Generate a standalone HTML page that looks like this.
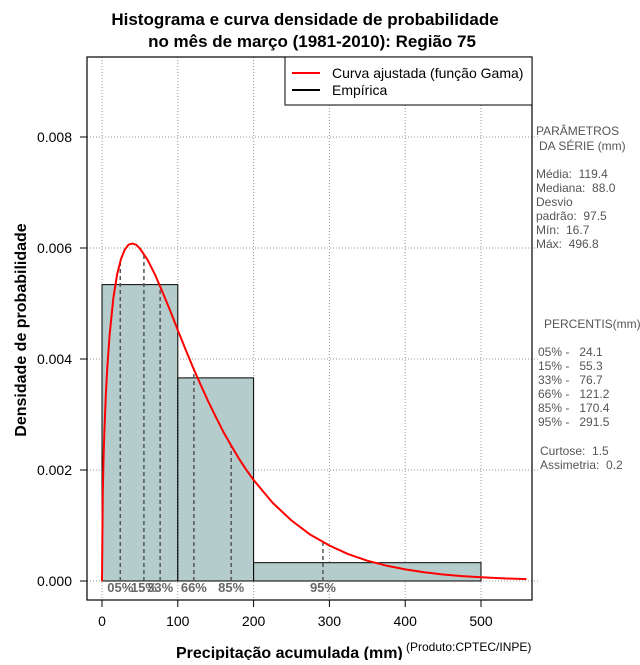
<!DOCTYPE html>
<html><head><meta charset="utf-8"><style>
body{margin:0;background:#fff;}
svg text{font-family:"Liberation Sans",sans-serif;white-space:pre;}
</style></head><body>
<svg id="c" width="640" height="660" xmlns="http://www.w3.org/2000/svg">
<defs><clipPath id="pc"><rect x="87" y="57" width="445" height="543"/></clipPath></defs>
<text x="305" y="25" text-anchor="middle" font-size="17" font-weight="bold">Histograma e curva densidade de probabilidade</text>
<text x="312" y="47" text-anchor="middle" font-size="17" font-weight="bold">no mês de março (1981-2010): Região 75</text>
<g id="grid"></g><g id="bars"></g><g id="pct"></g><g id="curve" clip-path="url(#pc)"></g><g id="axes"></g>
<rect x="87" y="57" width="445" height="543" fill="none" stroke="#000" stroke-width="1.2"/>
<g>
<rect x="285" y="57" width="247" height="48" fill="#fff" stroke="#000"/>
<line x1="292" y1="73" x2="320" y2="73" stroke="red" stroke-width="2"/>
<text x="332" y="78" font-size="14">Curva ajustada (função Gama)</text>
<line x1="292" y1="90" x2="320" y2="90" stroke="#000" stroke-width="2"/>
<text x="332" y="95" font-size="14">Empírica</text>
</g>
<text x="176" y="658" font-size="16" font-weight="bold">Precipitação acumulada (mm)</text>
<text x="406" y="651" font-size="12">(Produto:CPTEC/INPE)</text>
<text transform="translate(26,330) rotate(-90)" text-anchor="middle" font-size="16" font-weight="bold">Densidade de probabilidade</text>
<g font-size="12" fill="#555">
<text x="536" y="135">PARÂMETROS</text><text x="539" y="150">DA SÉRIE (mm)</text>
<text x="536" y="178">Média:  119.4</text><text x="536" y="192">Mediana:  88.0</text>
<text x="536" y="206">Desvio</text><text x="536" y="220">padrão:  97.5</text>
<text x="536" y="234">Mín:  16.7</text><text x="536" y="248">Máx:  496.8</text>
<text x="544" y="328">PERCENTIS(mm)</text>
<text x="538" y="356">05% -   24.1</text><text x="538" y="370">15% -   55.3</text>
<text x="538" y="384">33% -   76.7</text><text x="538" y="398">66% -   121.2</text>
<text x="538" y="412">85% -   170.4</text><text x="538" y="426">95% -   291.5</text>
<text x="540" y="455">Curtose:  1.5</text><text x="540" y="469">Assimetria:  0.2</text>
</g>
</svg>
<script>
const binEdges=[0,100,200,500];
const binDensity=[0.00534,0.00366,0.00033];
const curveX=[0,1,2,3,5,7,10,15,20,25,30,35,40,45,50,60,70,80,90,100,110,120,130,140,150,160,170,180,190,200,225,250,275,300,325,350,375,400,425,450,475,500,530,560];
const curveY=[0,0.00157,0.00219,0.00265,0.00334,0.00385,0.00443,0.0051,0.00553,0.0058,0.00597,0.00606,0.00608,0.00606,0.00599,0.00579,0.00552,0.0052,0.00487,0.00452,0.00418,0.00385,0.00354,0.00324,0.00296,0.00269,0.00245,0.00222,0.00201,0.00182,0.00141,0.00109,0.000833,0.00064,0.000483,0.000366,0.000277,0.000209,0.000157,0.000118,0.0000887,0.0000665,0.0000469,0.000033];
const pctLabels=["05%","15%","33%","66%","85%","95%"];
const pctValues=[24.1,55.3,76.7,121.2,170.4,291.5];
const xTicks=[0,100,200,300,400,500];
const yTicks=[0,0.002,0.004,0.006,0.008];
const yTickLabels=["0.000","0.002","0.004","0.006","0.008"];
const NS="http://www.w3.org/2000/svg";
const X=v=>102+v*0.758, Y=v=>581-v*55500;
function mk(p,t,a){const e=document.createElementNS(NS,t);for(const k in a)e.setAttribute(k,a[k]);document.getElementById(p).appendChild(e);return e;}
function interp(x){for(let i=1;i<curveX.length;i++)if(x<=curveX[i]){const t=(x-curveX[i-1])/(curveX[i]-curveX[i-1]);return curveY[i-1]+t*(curveY[i]-curveY[i-1]);}return curveY[curveY.length-1];}
xTicks.forEach(v=>{const l=mk('grid','line',{x1:X(v),x2:X(v),y1:57,y2:600,stroke:'#999','stroke-dasharray':'1,2'});

const t=mk('axes','line',{x1:X(v),x2:X(v),y1:600,y2:607,stroke:'#000'});

const tx=mk('axes','text',{x:X(v),y:626,'text-anchor':'middle','font-size':14});tx.textContent=v;
});
yTicks.forEach((v,i)=>{const l=mk('grid','line',{x1:87,x2:540,y1:Y(v),y2:Y(v),stroke:'#999','stroke-dasharray':'1,2'});

const t=mk('axes','line',{x1:80,x2:87,y1:Y(v),y2:Y(v),stroke:'#000'});

const tx=mk('axes','text',{x:72,y:Y(v)+5,'text-anchor':'end','font-size':14});tx.textContent=yTickLabels[i];
});
binDensity.forEach((d,i)=>{const r=mk('bars','rect',{x:X(binEdges[i]),y:Y(d),width:X(binEdges[i+1])-X(binEdges[i]),height:Y(0)-Y(d),fill:'#b4cccc',stroke:'#000','stroke-width':1});
});
binEdges.forEach(v=>{const l=mk('bars','line',{x1:X(v),x2:X(v),y1:Y(0),y2:Y(binDensity[Math.min(binEdges.indexOf(v),binDensity.length-1)]),stroke:'#000','stroke-dasharray':'1,2'});
});
pctValues.forEach((v,i)=>{const l=mk('pct','line',{x1:X(v),x2:X(v),y1:Y(0),y2:Y(interp(v)),stroke:'#555','stroke-width':1.5,'stroke-dasharray':'4,3'});

const t=mk('pct','text',{x:X(v),y:592,'text-anchor':'middle','font-size':13,'font-weight':'bold',fill:'#666'});t.textContent=pctLabels[i];
});
const p=mk('curve','polyline',{points:curveX.map((x,i)=>X(x)+','+Y(curveY[i])).join(' '),fill:'none',stroke:'red','stroke-width':2,'stroke-linejoin':'round'});

</script>
</body></html>
